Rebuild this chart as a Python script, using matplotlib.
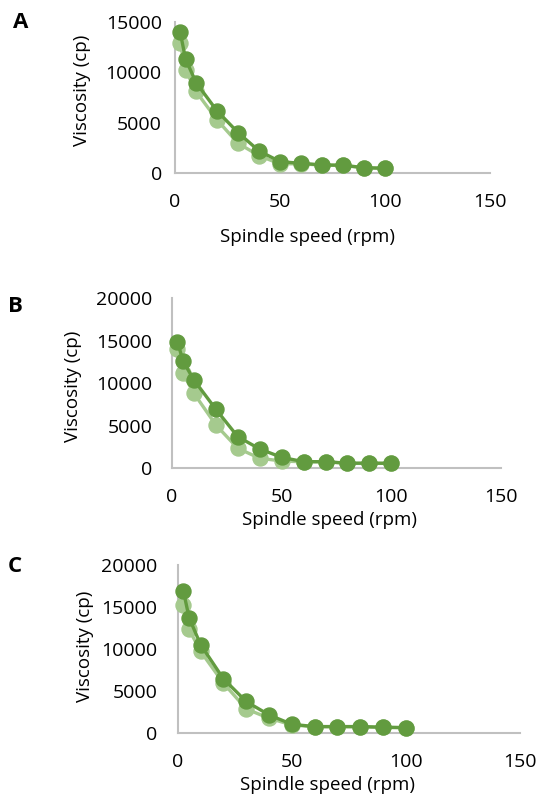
import numpy as np
import matplotlib
matplotlib.use("Agg")
import matplotlib.pyplot as plt

plt.rcParams["font.family"] = ["Open Sans", "DejaVu Sans"]

speed = [2.5, 5, 10, 20, 30, 40, 50, 60, 70, 80, 90, 100]

# panel A
a_light = [12900, 10260, 8110, 5300, 2980, 1750, 930, 950, 800, 780, 540, 480]
a_dark = [13970, 11350, 9000, 6190, 4040, 2220, 1160, 990, 830, 800, 560, 500]
# panel B
b_light = [13990, 11170, 8820, 5100, 2350, 1180, 860, 760, 760, 580, 580, 580]
b_dark = [14900, 12620, 10390, 6940, 3720, 2270, 1290, 780, 780, 600, 600, 590]
# panel C
c_light = [15240, 12340, 9750, 5970, 2900, 1790, 1000, 780, 780, 780, 700, 660]
c_dark = [16900, 13730, 10550, 6490, 3780, 2190, 1070, 800, 800, 800, 720, 680]

panels = [
    ("A", a_light, a_dark, [0, 5000, 10000, 15000], 15000),
    ("B", b_light, b_dark, [0, 5000, 10000, 15000, 20000], 20000),
    ("C", c_light, c_dark, [0, 5000, 10000, 15000, 20000], 20000),
]

W, H = 537, 796
# axes boxes in pixels: left, right, top, bottom
boxes = [(175, 490, 22, 173.3), (172, 501, 298.3, 468.3), (177.7, 520, 565, 733.3)]
letter_xy = [(21, 23), (15, 306), (14.5, 566)]
xlab_xy = [(308, 236.7), (329, 520), (327.5, 785)]
ylab_xy = [(82, 90), (73, 386), (85, 646)]
ypad = [9.5, 14, 14.5]

dark = "#629b3f"
light = "#a5ca8e"
grey = "#c0c0c0"
fs = 13.5

fig = plt.figure(figsize=(W / 100, H / 100), dpi=100)

for i, (lab, yl, yd, yt, ymax) in enumerate(panels):
    l, r, t, b = boxes[i]
    ax = fig.add_axes([l / W, 1 - b / H, (r - l) / W, (b - t) / H])
    ax.plot(speed, yl, color=light, lw=2.4, marker="o", ms=10.8, zorder=2, clip_on=False)
    ax.plot(speed, yd, color=dark, lw=2.4, marker="o", ms=10.8, zorder=3, clip_on=False)
    ax.set_xlim(0, 150)
    ax.set_ylim(0, ymax)
    ax.set_xticks([0, 50, 100, 150])
    ax.set_yticks(yt)
    for s in ["top", "right"]:
        ax.spines[s].set_visible(False)
    for s in ["left", "bottom"]:
        ax.spines[s].set_color(grey)
        ax.spines[s].set_linewidth(1.5)
        ax.spines[s].set_zorder(1)
    ax.tick_params(length=0, labelsize=14, colors="black")
    ax.tick_params(axis="x", pad=14.3)
    ax.tick_params(axis="y", pad=ypad[i])

    x, y = ylab_xy[i]
    fig.text(x / W, 1 - y / H, "Viscosity (cp)", rotation=90,
             ha="center", va="center", fontsize=fs)
    x, y = xlab_xy[i]
    fig.text(x / W, 1 - y / H, "Spindle speed (rpm)",
             ha="center", va="center", fontsize=fs)
    x, y = letter_xy[i]
    fig.text(x / W, 1 - y / H, lab, ha="center", va="center",
             fontsize=16, fontweight="bold")

fig.savefig("out.png", dpi=100)
